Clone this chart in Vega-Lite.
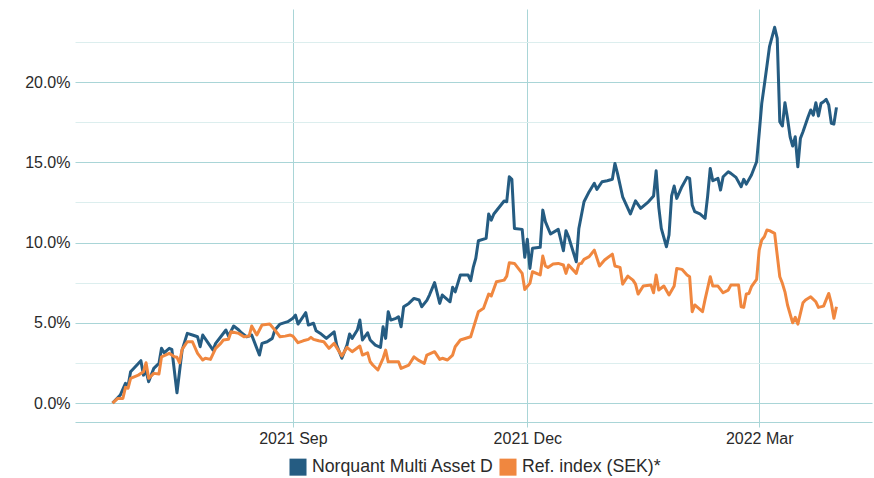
{
  "$schema": "https://vega.github.io/schema/vega-lite/v6.json",
  "width": 797,
  "height": 413,
  "autosize": {"type": "none"},
  "padding": {"left": 75, "top": 9, "right": 2, "bottom": 56},
  "config": {"view": {"stroke": null}, "font": "Liberation Sans"},
  "data": {"values": [
    {"date": "2021-06-23", "s": "Norquant Multi Asset D", "v": 0.0},
    {"date": "2021-06-26", "s": "Norquant Multi Asset D", "v": 0.50},
    {"date": "2021-06-28", "s": "Norquant Multi Asset D", "v": 1.23},
    {"date": "2021-06-29", "s": "Norquant Multi Asset D", "v": 1.06},
    {"date": "2021-06-30", "s": "Norquant Multi Asset D", "v": 1.95},
    {"date": "2021-07-04", "s": "Norquant Multi Asset D", "v": 2.64},
    {"date": "2021-07-05", "s": "Norquant Multi Asset D", "v": 1.74},
    {"date": "2021-07-06", "s": "Norquant Multi Asset D", "v": 2.01},
    {"date": "2021-07-07", "s": "Norquant Multi Asset D", "v": 1.33},
    {"date": "2021-07-09", "s": "Norquant Multi Asset D", "v": 2.16},
    {"date": "2021-07-11", "s": "Norquant Multi Asset D", "v": 2.47},
    {"date": "2021-07-12", "s": "Norquant Multi Asset D", "v": 3.41},
    {"date": "2021-07-13", "s": "Norquant Multi Asset D", "v": 3.13},
    {"date": "2021-07-15", "s": "Norquant Multi Asset D", "v": 3.41},
    {"date": "2021-07-16", "s": "Norquant Multi Asset D", "v": 3.35},
    {"date": "2021-07-18", "s": "Norquant Multi Asset D", "v": 0.64},
    {"date": "2021-07-20", "s": "Norquant Multi Asset D", "v": 3.30},
    {"date": "2021-07-22", "s": "Norquant Multi Asset D", "v": 4.34},
    {"date": "2021-07-24", "s": "Norquant Multi Asset D", "v": 4.24},
    {"date": "2021-07-26", "s": "Norquant Multi Asset D", "v": 4.13},
    {"date": "2021-07-27", "s": "Norquant Multi Asset D", "v": 3.51},
    {"date": "2021-07-28", "s": "Norquant Multi Asset D", "v": 4.24},
    {"date": "2021-07-30", "s": "Norquant Multi Asset D", "v": 3.76},
    {"date": "2021-08-01", "s": "Norquant Multi Asset D", "v": 3.30},
    {"date": "2021-08-02", "s": "Norquant Multi Asset D", "v": 3.72},
    {"date": "2021-08-04", "s": "Norquant Multi Asset D", "v": 4.13},
    {"date": "2021-08-06", "s": "Norquant Multi Asset D", "v": 4.55},
    {"date": "2021-08-07", "s": "Norquant Multi Asset D", "v": 4.17},
    {"date": "2021-08-09", "s": "Norquant Multi Asset D", "v": 4.80},
    {"date": "2021-08-11", "s": "Norquant Multi Asset D", "v": 4.55},
    {"date": "2021-08-12", "s": "Norquant Multi Asset D", "v": 4.38},
    {"date": "2021-08-14", "s": "Norquant Multi Asset D", "v": 4.13},
    {"date": "2021-08-16", "s": "Norquant Multi Asset D", "v": 4.24},
    {"date": "2021-08-19", "s": "Norquant Multi Asset D", "v": 2.99},
    {"date": "2021-08-20", "s": "Norquant Multi Asset D", "v": 3.72},
    {"date": "2021-08-22", "s": "Norquant Multi Asset D", "v": 3.82},
    {"date": "2021-08-24", "s": "Norquant Multi Asset D", "v": 4.03},
    {"date": "2021-08-25", "s": "Norquant Multi Asset D", "v": 4.55},
    {"date": "2021-08-27", "s": "Norquant Multi Asset D", "v": 4.92},
    {"date": "2021-08-30", "s": "Norquant Multi Asset D", "v": 5.07},
    {"date": "2021-09-01", "s": "Norquant Multi Asset D", "v": 5.28},
    {"date": "2021-09-02", "s": "Norquant Multi Asset D", "v": 5.48},
    {"date": "2021-09-03", "s": "Norquant Multi Asset D", "v": 4.92},
    {"date": "2021-09-06", "s": "Norquant Multi Asset D", "v": 5.63},
    {"date": "2021-09-07", "s": "Norquant Multi Asset D", "v": 4.86},
    {"date": "2021-09-09", "s": "Norquant Multi Asset D", "v": 4.97},
    {"date": "2021-09-10", "s": "Norquant Multi Asset D", "v": 4.50},
    {"date": "2021-09-12", "s": "Norquant Multi Asset D", "v": 4.30},
    {"date": "2021-09-14", "s": "Norquant Multi Asset D", "v": 4.03},
    {"date": "2021-09-17", "s": "Norquant Multi Asset D", "v": 4.44},
    {"date": "2021-09-18", "s": "Norquant Multi Asset D", "v": 3.61},
    {"date": "2021-09-20", "s": "Norquant Multi Asset D", "v": 2.79},
    {"date": "2021-09-22", "s": "Norquant Multi Asset D", "v": 3.61},
    {"date": "2021-09-23", "s": "Norquant Multi Asset D", "v": 4.30},
    {"date": "2021-09-24", "s": "Norquant Multi Asset D", "v": 4.03},
    {"date": "2021-09-26", "s": "Norquant Multi Asset D", "v": 4.55},
    {"date": "2021-09-27", "s": "Norquant Multi Asset D", "v": 5.17},
    {"date": "2021-09-28", "s": "Norquant Multi Asset D", "v": 3.93},
    {"date": "2021-09-30", "s": "Norquant Multi Asset D", "v": 4.38},
    {"date": "2021-10-01", "s": "Norquant Multi Asset D", "v": 3.93},
    {"date": "2021-10-03", "s": "Norquant Multi Asset D", "v": 3.61},
    {"date": "2021-10-05", "s": "Norquant Multi Asset D", "v": 3.47},
    {"date": "2021-10-06", "s": "Norquant Multi Asset D", "v": 4.75},
    {"date": "2021-10-07", "s": "Norquant Multi Asset D", "v": 4.03},
    {"date": "2021-10-08", "s": "Norquant Multi Asset D", "v": 5.69},
    {"date": "2021-10-09", "s": "Norquant Multi Asset D", "v": 5.17},
    {"date": "2021-10-11", "s": "Norquant Multi Asset D", "v": 5.28},
    {"date": "2021-10-12", "s": "Norquant Multi Asset D", "v": 5.38},
    {"date": "2021-10-13", "s": "Norquant Multi Asset D", "v": 4.75},
    {"date": "2021-10-14", "s": "Norquant Multi Asset D", "v": 6.00},
    {"date": "2021-10-16", "s": "Norquant Multi Asset D", "v": 6.21},
    {"date": "2021-10-18", "s": "Norquant Multi Asset D", "v": 6.52},
    {"date": "2021-10-20", "s": "Norquant Multi Asset D", "v": 6.42},
    {"date": "2021-10-21", "s": "Norquant Multi Asset D", "v": 6.00},
    {"date": "2021-10-23", "s": "Norquant Multi Asset D", "v": 6.40},
    {"date": "2021-10-24", "s": "Norquant Multi Asset D", "v": 6.73},
    {"date": "2021-10-26", "s": "Norquant Multi Asset D", "v": 7.50},
    {"date": "2021-10-28", "s": "Norquant Multi Asset D", "v": 6.21},
    {"date": "2021-10-29", "s": "Norquant Multi Asset D", "v": 6.73},
    {"date": "2021-11-01", "s": "Norquant Multi Asset D", "v": 6.31},
    {"date": "2021-11-02", "s": "Norquant Multi Asset D", "v": 7.21},
    {"date": "2021-11-03", "s": "Norquant Multi Asset D", "v": 6.93},
    {"date": "2021-11-05", "s": "Norquant Multi Asset D", "v": 7.98},
    {"date": "2021-11-08", "s": "Norquant Multi Asset D", "v": 7.98},
    {"date": "2021-11-09", "s": "Norquant Multi Asset D", "v": 7.62},
    {"date": "2021-11-10", "s": "Norquant Multi Asset D", "v": 8.45},
    {"date": "2021-11-11", "s": "Norquant Multi Asset D", "v": 9.02},
    {"date": "2021-11-12", "s": "Norquant Multi Asset D", "v": 10.11},
    {"date": "2021-11-15", "s": "Norquant Multi Asset D", "v": 10.26},
    {"date": "2021-11-16", "s": "Norquant Multi Asset D", "v": 11.78},
    {"date": "2021-11-17", "s": "Norquant Multi Asset D", "v": 11.40},
    {"date": "2021-11-18", "s": "Norquant Multi Asset D", "v": 11.78},
    {"date": "2021-11-22", "s": "Norquant Multi Asset D", "v": 12.59},
    {"date": "2021-11-23", "s": "Norquant Multi Asset D", "v": 12.54},
    {"date": "2021-11-24", "s": "Norquant Multi Asset D", "v": 14.10},
    {"date": "2021-11-25", "s": "Norquant Multi Asset D", "v": 13.94},
    {"date": "2021-11-26", "s": "Norquant Multi Asset D", "v": 10.88},
    {"date": "2021-11-29", "s": "Norquant Multi Asset D", "v": 10.82},
    {"date": "2021-11-30", "s": "Norquant Multi Asset D", "v": 9.08},
    {"date": "2021-12-01", "s": "Norquant Multi Asset D", "v": 10.20},
    {"date": "2021-12-02", "s": "Norquant Multi Asset D", "v": 8.39},
    {"date": "2021-12-03", "s": "Norquant Multi Asset D", "v": 9.64},
    {"date": "2021-12-06", "s": "Norquant Multi Asset D", "v": 9.70},
    {"date": "2021-12-07", "s": "Norquant Multi Asset D", "v": 12.02},
    {"date": "2021-12-08", "s": "Norquant Multi Asset D", "v": 11.30},
    {"date": "2021-12-10", "s": "Norquant Multi Asset D", "v": 10.53},
    {"date": "2021-12-13", "s": "Norquant Multi Asset D", "v": 10.82},
    {"date": "2021-12-15", "s": "Norquant Multi Asset D", "v": 9.49},
    {"date": "2021-12-16", "s": "Norquant Multi Asset D", "v": 10.74},
    {"date": "2021-12-17", "s": "Norquant Multi Asset D", "v": 10.36},
    {"date": "2021-12-20", "s": "Norquant Multi Asset D", "v": 8.80},
    {"date": "2021-12-21", "s": "Norquant Multi Asset D", "v": 10.88},
    {"date": "2021-12-23", "s": "Norquant Multi Asset D", "v": 12.54},
    {"date": "2021-12-25", "s": "Norquant Multi Asset D", "v": 13.17},
    {"date": "2021-12-27", "s": "Norquant Multi Asset D", "v": 13.69},
    {"date": "2021-12-28", "s": "Norquant Multi Asset D", "v": 13.31},
    {"date": "2021-12-30", "s": "Norquant Multi Asset D", "v": 13.79},
    {"date": "2022-01-01", "s": "Norquant Multi Asset D", "v": 13.85},
    {"date": "2022-01-03", "s": "Norquant Multi Asset D", "v": 13.94},
    {"date": "2022-01-04", "s": "Norquant Multi Asset D", "v": 14.93},
    {"date": "2022-01-05", "s": "Norquant Multi Asset D", "v": 14.31},
    {"date": "2022-01-07", "s": "Norquant Multi Asset D", "v": 12.85},
    {"date": "2022-01-10", "s": "Norquant Multi Asset D", "v": 11.78},
    {"date": "2022-01-12", "s": "Norquant Multi Asset D", "v": 12.60},
    {"date": "2022-01-14", "s": "Norquant Multi Asset D", "v": 12.13},
    {"date": "2022-01-17", "s": "Norquant Multi Asset D", "v": 12.54},
    {"date": "2022-01-19", "s": "Norquant Multi Asset D", "v": 12.90},
    {"date": "2022-01-20", "s": "Norquant Multi Asset D", "v": 14.47},
    {"date": "2022-01-21", "s": "Norquant Multi Asset D", "v": 12.23},
    {"date": "2022-01-22", "s": "Norquant Multi Asset D", "v": 10.88},
    {"date": "2022-01-24", "s": "Norquant Multi Asset D", "v": 9.74},
    {"date": "2022-01-25", "s": "Norquant Multi Asset D", "v": 10.47},
    {"date": "2022-01-26", "s": "Norquant Multi Asset D", "v": 12.90},
    {"date": "2022-01-27", "s": "Norquant Multi Asset D", "v": 13.52},
    {"date": "2022-01-28", "s": "Norquant Multi Asset D", "v": 12.75},
    {"date": "2022-01-30", "s": "Norquant Multi Asset D", "v": 13.48},
    {"date": "2022-02-01", "s": "Norquant Multi Asset D", "v": 14.06},
    {"date": "2022-02-02", "s": "Norquant Multi Asset D", "v": 14.00},
    {"date": "2022-02-03", "s": "Norquant Multi Asset D", "v": 12.34},
    {"date": "2022-02-04", "s": "Norquant Multi Asset D", "v": 11.92},
    {"date": "2022-02-06", "s": "Norquant Multi Asset D", "v": 11.78},
    {"date": "2022-02-08", "s": "Norquant Multi Asset D", "v": 11.51},
    {"date": "2022-02-09", "s": "Norquant Multi Asset D", "v": 12.90},
    {"date": "2022-02-10", "s": "Norquant Multi Asset D", "v": 14.62},
    {"date": "2022-02-11", "s": "Norquant Multi Asset D", "v": 13.85},
    {"date": "2022-02-13", "s": "Norquant Multi Asset D", "v": 14.00},
    {"date": "2022-02-14", "s": "Norquant Multi Asset D", "v": 13.27},
    {"date": "2022-02-15", "s": "Norquant Multi Asset D", "v": 14.10},
    {"date": "2022-02-17", "s": "Norquant Multi Asset D", "v": 14.41},
    {"date": "2022-02-18", "s": "Norquant Multi Asset D", "v": 14.31},
    {"date": "2022-02-20", "s": "Norquant Multi Asset D", "v": 14.06},
    {"date": "2022-02-22", "s": "Norquant Multi Asset D", "v": 13.48},
    {"date": "2022-02-23", "s": "Norquant Multi Asset D", "v": 13.94},
    {"date": "2022-02-24", "s": "Norquant Multi Asset D", "v": 13.64},
    {"date": "2022-02-26", "s": "Norquant Multi Asset D", "v": 14.21},
    {"date": "2022-02-28", "s": "Norquant Multi Asset D", "v": 15.03},
    {"date": "2022-03-01", "s": "Norquant Multi Asset D", "v": 16.80},
    {"date": "2022-03-02", "s": "Norquant Multi Asset D", "v": 18.67},
    {"date": "2022-03-03", "s": "Norquant Multi Asset D", "v": 19.81},
    {"date": "2022-03-04", "s": "Norquant Multi Asset D", "v": 21.00},
    {"date": "2022-03-05", "s": "Norquant Multi Asset D", "v": 22.20},
    {"date": "2022-03-07", "s": "Norquant Multi Asset D", "v": 23.41},
    {"date": "2022-03-08", "s": "Norquant Multi Asset D", "v": 22.72},
    {"date": "2022-03-09", "s": "Norquant Multi Asset D", "v": 17.53},
    {"date": "2022-03-10", "s": "Norquant Multi Asset D", "v": 17.26},
    {"date": "2022-03-11", "s": "Norquant Multi Asset D", "v": 18.71},
    {"date": "2022-03-12", "s": "Norquant Multi Asset D", "v": 17.74},
    {"date": "2022-03-13", "s": "Norquant Multi Asset D", "v": 16.59},
    {"date": "2022-03-14", "s": "Norquant Multi Asset D", "v": 16.01},
    {"date": "2022-03-15", "s": "Norquant Multi Asset D", "v": 16.59},
    {"date": "2022-03-16", "s": "Norquant Multi Asset D", "v": 14.72},
    {"date": "2022-03-17", "s": "Norquant Multi Asset D", "v": 16.49},
    {"date": "2022-03-18", "s": "Norquant Multi Asset D", "v": 16.90},
    {"date": "2022-03-20", "s": "Norquant Multi Asset D", "v": 17.84},
    {"date": "2022-03-21", "s": "Norquant Multi Asset D", "v": 18.26},
    {"date": "2022-03-22", "s": "Norquant Multi Asset D", "v": 17.94},
    {"date": "2022-03-23", "s": "Norquant Multi Asset D", "v": 18.71},
    {"date": "2022-03-24", "s": "Norquant Multi Asset D", "v": 17.88},
    {"date": "2022-03-25", "s": "Norquant Multi Asset D", "v": 18.67},
    {"date": "2022-03-26", "s": "Norquant Multi Asset D", "v": 18.77},
    {"date": "2022-03-27", "s": "Norquant Multi Asset D", "v": 18.92},
    {"date": "2022-03-28", "s": "Norquant Multi Asset D", "v": 18.57},
    {"date": "2022-03-29", "s": "Norquant Multi Asset D", "v": 17.43},
    {"date": "2022-03-30", "s": "Norquant Multi Asset D", "v": 17.38},
    {"date": "2022-03-31", "s": "Norquant Multi Asset D", "v": 18.42},
    {"date": "2021-06-23", "s": "Ref. index (SEK)*", "v": 0.0},
    {"date": "2021-06-25", "s": "Ref. index (SEK)*", "v": 0.29},
    {"date": "2021-06-27", "s": "Ref. index (SEK)*", "v": 0.29},
    {"date": "2021-06-28", "s": "Ref. index (SEK)*", "v": 0.98},
    {"date": "2021-06-29", "s": "Ref. index (SEK)*", "v": 0.92},
    {"date": "2021-06-30", "s": "Ref. index (SEK)*", "v": 1.54},
    {"date": "2021-07-03", "s": "Ref. index (SEK)*", "v": 1.74},
    {"date": "2021-07-05", "s": "Ref. index (SEK)*", "v": 1.95},
    {"date": "2021-07-06", "s": "Ref. index (SEK)*", "v": 2.51},
    {"date": "2021-07-07", "s": "Ref. index (SEK)*", "v": 1.54},
    {"date": "2021-07-09", "s": "Ref. index (SEK)*", "v": 1.85},
    {"date": "2021-07-11", "s": "Ref. index (SEK)*", "v": 1.81},
    {"date": "2021-07-12", "s": "Ref. index (SEK)*", "v": 2.88},
    {"date": "2021-07-15", "s": "Ref. index (SEK)*", "v": 3.10},
    {"date": "2021-07-17", "s": "Ref. index (SEK)*", "v": 2.88},
    {"date": "2021-07-18", "s": "Ref. index (SEK)*", "v": 2.85},
    {"date": "2021-07-19", "s": "Ref. index (SEK)*", "v": 2.51},
    {"date": "2021-07-20", "s": "Ref. index (SEK)*", "v": 3.35},
    {"date": "2021-07-22", "s": "Ref. index (SEK)*", "v": 3.82},
    {"date": "2021-07-24", "s": "Ref. index (SEK)*", "v": 3.82},
    {"date": "2021-07-26", "s": "Ref. index (SEK)*", "v": 3.10},
    {"date": "2021-07-28", "s": "Ref. index (SEK)*", "v": 2.68},
    {"date": "2021-07-29", "s": "Ref. index (SEK)*", "v": 2.79},
    {"date": "2021-07-31", "s": "Ref. index (SEK)*", "v": 2.72},
    {"date": "2021-08-02", "s": "Ref. index (SEK)*", "v": 3.41},
    {"date": "2021-08-04", "s": "Ref. index (SEK)*", "v": 3.72},
    {"date": "2021-08-05", "s": "Ref. index (SEK)*", "v": 3.93},
    {"date": "2021-08-07", "s": "Ref. index (SEK)*", "v": 3.97},
    {"date": "2021-08-08", "s": "Ref. index (SEK)*", "v": 4.44},
    {"date": "2021-08-11", "s": "Ref. index (SEK)*", "v": 4.34},
    {"date": "2021-08-13", "s": "Ref. index (SEK)*", "v": 4.13},
    {"date": "2021-08-15", "s": "Ref. index (SEK)*", "v": 4.17},
    {"date": "2021-08-16", "s": "Ref. index (SEK)*", "v": 4.80},
    {"date": "2021-08-18", "s": "Ref. index (SEK)*", "v": 4.24},
    {"date": "2021-08-20", "s": "Ref. index (SEK)*", "v": 4.86},
    {"date": "2021-08-23", "s": "Ref. index (SEK)*", "v": 4.92},
    {"date": "2021-08-25", "s": "Ref. index (SEK)*", "v": 4.55},
    {"date": "2021-08-27", "s": "Ref. index (SEK)*", "v": 4.13},
    {"date": "2021-08-29", "s": "Ref. index (SEK)*", "v": 4.17},
    {"date": "2021-08-31", "s": "Ref. index (SEK)*", "v": 4.24},
    {"date": "2021-09-01", "s": "Ref. index (SEK)*", "v": 4.17},
    {"date": "2021-09-03", "s": "Ref. index (SEK)*", "v": 3.76},
    {"date": "2021-09-05", "s": "Ref. index (SEK)*", "v": 3.88},
    {"date": "2021-09-07", "s": "Ref. index (SEK)*", "v": 3.97},
    {"date": "2021-09-08", "s": "Ref. index (SEK)*", "v": 4.09},
    {"date": "2021-09-09", "s": "Ref. index (SEK)*", "v": 3.97},
    {"date": "2021-09-11", "s": "Ref. index (SEK)*", "v": 3.88},
    {"date": "2021-09-13", "s": "Ref. index (SEK)*", "v": 3.82},
    {"date": "2021-09-15", "s": "Ref. index (SEK)*", "v": 3.41},
    {"date": "2021-09-17", "s": "Ref. index (SEK)*", "v": 3.72},
    {"date": "2021-09-20", "s": "Ref. index (SEK)*", "v": 2.93},
    {"date": "2021-09-22", "s": "Ref. index (SEK)*", "v": 3.47},
    {"date": "2021-09-24", "s": "Ref. index (SEK)*", "v": 3.20},
    {"date": "2021-09-27", "s": "Ref. index (SEK)*", "v": 3.55},
    {"date": "2021-09-28", "s": "Ref. index (SEK)*", "v": 2.99},
    {"date": "2021-09-30", "s": "Ref. index (SEK)*", "v": 3.13},
    {"date": "2021-10-01", "s": "Ref. index (SEK)*", "v": 2.57},
    {"date": "2021-10-02", "s": "Ref. index (SEK)*", "v": 2.37},
    {"date": "2021-10-04", "s": "Ref. index (SEK)*", "v": 2.06},
    {"date": "2021-10-06", "s": "Ref. index (SEK)*", "v": 2.79},
    {"date": "2021-10-07", "s": "Ref. index (SEK)*", "v": 3.30},
    {"date": "2021-10-08", "s": "Ref. index (SEK)*", "v": 2.57},
    {"date": "2021-10-12", "s": "Ref. index (SEK)*", "v": 2.57},
    {"date": "2021-10-13", "s": "Ref. index (SEK)*", "v": 2.16},
    {"date": "2021-10-16", "s": "Ref. index (SEK)*", "v": 2.37},
    {"date": "2021-10-18", "s": "Ref. index (SEK)*", "v": 2.88},
    {"date": "2021-10-20", "s": "Ref. index (SEK)*", "v": 2.64},
    {"date": "2021-10-22", "s": "Ref. index (SEK)*", "v": 2.47},
    {"date": "2021-10-23", "s": "Ref. index (SEK)*", "v": 2.99},
    {"date": "2021-10-26", "s": "Ref. index (SEK)*", "v": 3.20},
    {"date": "2021-10-28", "s": "Ref. index (SEK)*", "v": 2.72},
    {"date": "2021-10-29", "s": "Ref. index (SEK)*", "v": 2.79},
    {"date": "2021-10-31", "s": "Ref. index (SEK)*", "v": 2.68},
    {"date": "2021-11-02", "s": "Ref. index (SEK)*", "v": 2.99},
    {"date": "2021-11-03", "s": "Ref. index (SEK)*", "v": 3.51},
    {"date": "2021-11-05", "s": "Ref. index (SEK)*", "v": 3.93},
    {"date": "2021-11-09", "s": "Ref. index (SEK)*", "v": 4.13},
    {"date": "2021-11-10", "s": "Ref. index (SEK)*", "v": 4.65},
    {"date": "2021-11-12", "s": "Ref. index (SEK)*", "v": 5.69},
    {"date": "2021-11-14", "s": "Ref. index (SEK)*", "v": 5.90},
    {"date": "2021-11-16", "s": "Ref. index (SEK)*", "v": 6.79},
    {"date": "2021-11-17", "s": "Ref. index (SEK)*", "v": 6.67},
    {"date": "2021-11-19", "s": "Ref. index (SEK)*", "v": 7.56},
    {"date": "2021-11-22", "s": "Ref. index (SEK)*", "v": 7.66},
    {"date": "2021-11-23", "s": "Ref. index (SEK)*", "v": 7.91},
    {"date": "2021-11-24", "s": "Ref. index (SEK)*", "v": 8.74},
    {"date": "2021-11-26", "s": "Ref. index (SEK)*", "v": 8.70},
    {"date": "2021-11-29", "s": "Ref. index (SEK)*", "v": 8.08},
    {"date": "2021-11-30", "s": "Ref. index (SEK)*", "v": 7.08},
    {"date": "2021-12-02", "s": "Ref. index (SEK)*", "v": 7.46},
    {"date": "2021-12-03", "s": "Ref. index (SEK)*", "v": 8.18},
    {"date": "2021-12-06", "s": "Ref. index (SEK)*", "v": 7.98},
    {"date": "2021-12-07", "s": "Ref. index (SEK)*", "v": 9.16},
    {"date": "2021-12-08", "s": "Ref. index (SEK)*", "v": 8.54},
    {"date": "2021-12-09", "s": "Ref. index (SEK)*", "v": 8.45},
    {"date": "2021-12-11", "s": "Ref. index (SEK)*", "v": 8.66},
    {"date": "2021-12-13", "s": "Ref. index (SEK)*", "v": 8.70},
    {"date": "2021-12-15", "s": "Ref. index (SEK)*", "v": 8.60},
    {"date": "2021-12-16", "s": "Ref. index (SEK)*", "v": 8.08},
    {"date": "2021-12-17", "s": "Ref. index (SEK)*", "v": 8.60},
    {"date": "2021-12-20", "s": "Ref. index (SEK)*", "v": 8.08},
    {"date": "2021-12-21", "s": "Ref. index (SEK)*", "v": 8.66},
    {"date": "2021-12-22", "s": "Ref. index (SEK)*", "v": 8.70},
    {"date": "2021-12-23", "s": "Ref. index (SEK)*", "v": 8.95},
    {"date": "2021-12-25", "s": "Ref. index (SEK)*", "v": 9.12},
    {"date": "2021-12-27", "s": "Ref. index (SEK)*", "v": 9.53},
    {"date": "2021-12-29", "s": "Ref. index (SEK)*", "v": 8.54},
    {"date": "2021-12-31", "s": "Ref. index (SEK)*", "v": 8.91},
    {"date": "2022-01-03", "s": "Ref. index (SEK)*", "v": 9.28},
    {"date": "2022-01-04", "s": "Ref. index (SEK)*", "v": 8.54},
    {"date": "2022-01-06", "s": "Ref. index (SEK)*", "v": 8.45},
    {"date": "2022-01-07", "s": "Ref. index (SEK)*", "v": 7.41},
    {"date": "2022-01-09", "s": "Ref. index (SEK)*", "v": 7.91},
    {"date": "2022-01-11", "s": "Ref. index (SEK)*", "v": 7.66},
    {"date": "2022-01-12", "s": "Ref. index (SEK)*", "v": 7.41},
    {"date": "2022-01-13", "s": "Ref. index (SEK)*", "v": 6.79},
    {"date": "2022-01-15", "s": "Ref. index (SEK)*", "v": 7.29},
    {"date": "2022-01-18", "s": "Ref. index (SEK)*", "v": 7.35},
    {"date": "2022-01-19", "s": "Ref. index (SEK)*", "v": 6.87},
    {"date": "2022-01-20", "s": "Ref. index (SEK)*", "v": 7.98},
    {"date": "2022-01-21", "s": "Ref. index (SEK)*", "v": 7.04},
    {"date": "2022-01-23", "s": "Ref. index (SEK)*", "v": 7.29},
    {"date": "2022-01-25", "s": "Ref. index (SEK)*", "v": 6.73},
    {"date": "2022-01-27", "s": "Ref. index (SEK)*", "v": 7.29},
    {"date": "2022-01-28", "s": "Ref. index (SEK)*", "v": 8.39},
    {"date": "2022-01-30", "s": "Ref. index (SEK)*", "v": 8.33},
    {"date": "2022-02-01", "s": "Ref. index (SEK)*", "v": 7.98},
    {"date": "2022-02-02", "s": "Ref. index (SEK)*", "v": 7.87},
    {"date": "2022-02-03", "s": "Ref. index (SEK)*", "v": 5.69},
    {"date": "2022-02-04", "s": "Ref. index (SEK)*", "v": 6.11},
    {"date": "2022-02-07", "s": "Ref. index (SEK)*", "v": 5.69},
    {"date": "2022-02-08", "s": "Ref. index (SEK)*", "v": 6.46},
    {"date": "2022-02-10", "s": "Ref. index (SEK)*", "v": 7.87},
    {"date": "2022-02-11", "s": "Ref. index (SEK)*", "v": 7.29},
    {"date": "2022-02-13", "s": "Ref. index (SEK)*", "v": 7.29},
    {"date": "2022-02-15", "s": "Ref. index (SEK)*", "v": 6.87},
    {"date": "2022-02-17", "s": "Ref. index (SEK)*", "v": 7.04},
    {"date": "2022-02-18", "s": "Ref. index (SEK)*", "v": 7.35},
    {"date": "2022-02-21", "s": "Ref. index (SEK)*", "v": 7.35},
    {"date": "2022-02-22", "s": "Ref. index (SEK)*", "v": 6.00},
    {"date": "2022-02-23", "s": "Ref. index (SEK)*", "v": 5.96},
    {"date": "2022-02-24", "s": "Ref. index (SEK)*", "v": 6.79},
    {"date": "2022-02-25", "s": "Ref. index (SEK)*", "v": 6.83},
    {"date": "2022-02-26", "s": "Ref. index (SEK)*", "v": 7.25},
    {"date": "2022-02-28", "s": "Ref. index (SEK)*", "v": 7.71},
    {"date": "2022-03-01", "s": "Ref. index (SEK)*", "v": 9.53},
    {"date": "2022-03-02", "s": "Ref. index (SEK)*", "v": 10.16},
    {"date": "2022-03-03", "s": "Ref. index (SEK)*", "v": 10.36},
    {"date": "2022-03-04", "s": "Ref. index (SEK)*", "v": 10.78},
    {"date": "2022-03-05", "s": "Ref. index (SEK)*", "v": 10.74},
    {"date": "2022-03-07", "s": "Ref. index (SEK)*", "v": 10.57},
    {"date": "2022-03-09", "s": "Ref. index (SEK)*", "v": 7.87},
    {"date": "2022-03-10", "s": "Ref. index (SEK)*", "v": 7.46},
    {"date": "2022-03-11", "s": "Ref. index (SEK)*", "v": 6.93},
    {"date": "2022-03-12", "s": "Ref. index (SEK)*", "v": 6.11},
    {"date": "2022-03-14", "s": "Ref. index (SEK)*", "v": 5.00},
    {"date": "2022-03-15", "s": "Ref. index (SEK)*", "v": 5.34},
    {"date": "2022-03-16", "s": "Ref. index (SEK)*", "v": 4.92},
    {"date": "2022-03-18", "s": "Ref. index (SEK)*", "v": 6.25},
    {"date": "2022-03-19", "s": "Ref. index (SEK)*", "v": 6.42},
    {"date": "2022-03-21", "s": "Ref. index (SEK)*", "v": 6.62},
    {"date": "2022-03-23", "s": "Ref. index (SEK)*", "v": 6.31},
    {"date": "2022-03-24", "s": "Ref. index (SEK)*", "v": 5.96},
    {"date": "2022-03-26", "s": "Ref. index (SEK)*", "v": 6.04},
    {"date": "2022-03-28", "s": "Ref. index (SEK)*", "v": 6.83},
    {"date": "2022-03-29", "s": "Ref. index (SEK)*", "v": 6.21},
    {"date": "2022-03-30", "s": "Ref. index (SEK)*", "v": 5.28},
    {"date": "2022-03-31", "s": "Ref. index (SEK)*", "v": 6.00}
  ]},
  "mark": {"type": "line", "strokeWidth": 3, "strokeJoin": "round"},
  "encoding": {
    "x": {
      "field": "date", "type": "temporal",
      "scale": {"type": "utc", "domain": [
        {"year": 2021, "month": 6, "date": 8, "hours": 10, "utc": true},
        {"year": 2022, "month": 4, "date": 13, "hours": 19, "utc": true}
      ]},
      "axis": {
        "title": null,
        "values": [
          {"year": 2021, "month": 9, "date": 1, "utc": true},
          {"year": 2021, "month": 12, "date": 1, "utc": true},
          {"year": 2022, "month": 3, "date": 1, "utc": true}
        ],
        "labelExpr": "utcFormat(datum.value, '%Y %b')",
        "labelFontSize": 16, "labelColor": "#2a2a2a", "labelPadding": 3,
        "domainColor": "#A9D5D7", "tickColor": "#A9D5D7", "tickSize": 5,
        "grid": true, "gridColor": "#A9D5D7", "labelFlush": false
      }
    },
    "y": {
      "field": "v", "type": "quantitative",
      "scale": {"domain": [-1.18, 24.55], "nice": false, "zero": false},
      "axis": {
        "title": null,
        "values": [0, 2.5, 5, 7.5, 10, 12.5, 15, 17.5, 20, 22.5],
        "labelExpr": "datum.value % 5 === 0 ? format(datum.value, '.1f') + '%' : ''",
        "domain": false, "ticks": false,
        "labelFontSize": 16, "labelColor": "#2a2a2a", "labelPadding": 5,
        "grid": true,
        "gridColor": {"condition": {"test": "datum.value % 5 === 0", "value": "#A9D5D7"}, "value": "#DCEEEE"}
      }
    },
    "color": {
      "field": "s", "type": "nominal",
      "scale": {"domain": ["Norquant Multi Asset D", "Ref. index (SEK)*"], "range": ["#255C82", "#F0873F"]},
      "legend": {
        "title": null, "orient": "none", "legendX": 214, "legendY": 449, "direction": "horizontal",
        "symbolType": "square", "symbolSize": 290, "symbolStrokeWidth": 0,
        "labelFontSize": 17.7, "labelColor": "#2a2a2a", "labelLimit": 500,
        "columnPadding": 5, "labelOffset": 5,
        "encode": {"symbols": {"update": {"fill": {"scale": "color", "field": "value"}, "fillOpacity": {"value": 1}}}}
      }
    }
  }
}
